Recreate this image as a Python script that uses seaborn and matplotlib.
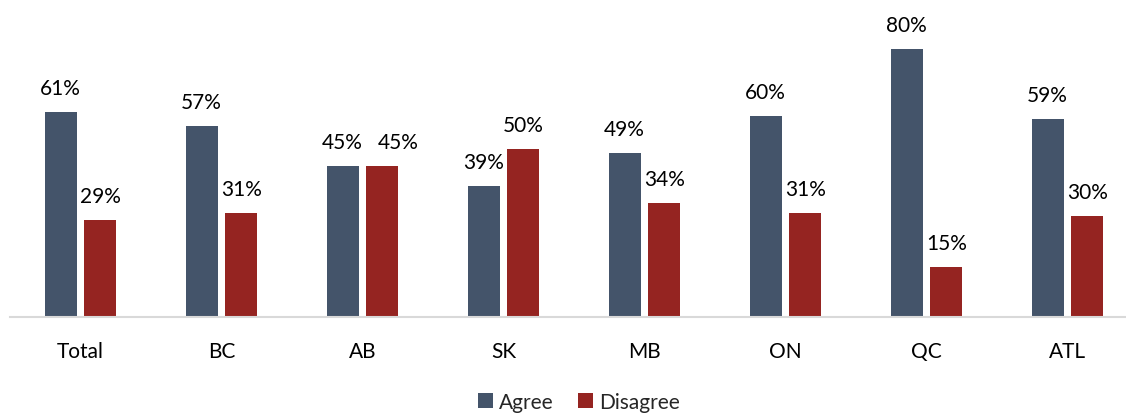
import pandas as pd
import matplotlib.pyplot as plt
import seaborn as sns

# --- DATA ---
regions = ["Total", "BC", "AB", "SK", "MB", "ON", "QC", "ATL"]
agree = [61, 57, 45, 39, 49, 60, 80, 59]
disagree = [29, 31, 45, 50, 34, 31, 15, 30]
series = ["Agree", "Disagree"]
colors = ["#44546A", "#952421"]

df = pd.DataFrame({
    "region": regions * 2,
    "response": [series[0]] * len(regions) + [series[1]] * len(regions),
    "pct": agree + disagree,
})

sns.set_theme(style="white")
plt.rcParams["font.family"] = ["Lato", "DejaVu Sans"]

fig = plt.figure(figsize=(11.26, 4.14), dpi=100)
ax = fig.add_axes([10 / 1126, 96 / 414, 1128 / 1126, 302 / 414])

sns.barplot(data=df, x="region", y="pct", hue="response", order=regions,
            hue_order=series, palette=colors, width=0.567, gap=0.2,
            saturation=1, linewidth=0, ax=ax, legend=True)

all_labels = []
for container in ax.containers:
    labs = ax.bar_label(container, labels=[f"{v:.0f}%" for v in container.datavalues],
                        padding=10, fontsize=15, color="black")
    all_labels.append(labs)

# AB labels collide, nudge the Disagree one right like the original
ab = regions.index("AB")
lab = all_labels[1][ab]
lab.xyann = (11, lab.xyann[1])

ax.set_ylim(0, 90)
ax.set_xlim(-0.5, len(regions) - 0.5)
ax.set_xlabel("")
ax.set_ylabel("")
ax.set_yticks([])
ax.tick_params(axis="x", labelsize=15, colors="black", pad=17, length=0)
for side in ["top", "right", "left"]:
    ax.spines[side].set_visible(False)
ax.spines["bottom"].set_color("#D9D9D9")
ax.spines["bottom"].set_linewidth(1.5)

handles, labels = ax.get_legend_handles_labels()
ax.get_legend().remove()
fig.legend(handles, labels, loc="center", bbox_to_anchor=(579 / 1126, 1 - 403 / 414),
           ncol=2, frameon=False, fontsize=15, handlelength=0.7, handleheight=0.7,
           handletextpad=0.3, columnspacing=1.2)

fig.savefig("out.png", dpi=100)
